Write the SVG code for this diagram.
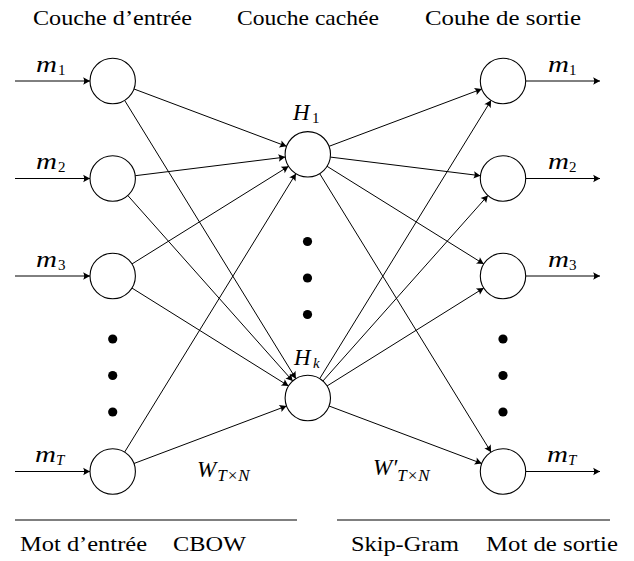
<svg xmlns="http://www.w3.org/2000/svg" width="634" height="561" viewBox="0 0 634 561" font-family="'Liberation Serif', 'Times New Roman', Times, 'DejaVu Serif', serif">
<defs>
<style>
.n{fill:#fff;stroke:#000;stroke-width:1.1}
.e{stroke:#000;stroke-width:1;fill:none;marker-end:url(#ah)}
text{fill:#000}
.t{font-size:22px}
.mi{font-style:italic;font-size:23px}
.sb{font-size:15px}
.sbi{font-style:italic;font-size:15px}
.ws{font-size:17px}
.d{fill:#000}
.rule{stroke:#000;stroke-width:1.1}
</style>
<marker id="ah" markerUnits="userSpaceOnUse" markerWidth="10" markerHeight="10" refX="0" refY="0" viewBox="-6 -4 7 8" orient="auto">
<path d="M0,0 L-5.5,-3 Q-3.8,0 -5.5,3 Z" fill="#000"/>
</marker>
</defs>
<rect width="634" height="561" fill="#fff"/>

<g id="titles">
<text class="t" x="33" y="25" textLength="159" lengthAdjust="spacingAndGlyphs">Couche d’entrée</text>
<text class="t" x="237" y="25" textLength="142" lengthAdjust="spacingAndGlyphs">Couche cachée</text>
<text class="t" x="425" y="25" textLength="156" lengthAdjust="spacingAndGlyphs">Couhe de sortie</text>
</g>

<g id="connectors">
<line class="e" x1="15" y1="81" x2="90" y2="81"/>
<line class="e" x1="15" y1="178.5" x2="90" y2="178.5"/>
<line class="e" x1="15" y1="276" x2="90" y2="276"/>
<line class="e" x1="15" y1="471.5" x2="90" y2="471.5"/>
<line class="e" x1="133.95" y1="88.98" x2="286.55" y2="146.32"/>
<line class="e" x1="135.23" y1="175.71" x2="285.27" y2="157.09"/>
<line class="e" x1="131.96" y1="263.98" x2="288.54" y2="166.32"/>
<line class="e" x1="124.59" y1="452.16" x2="295.91" y2="173.64"/>
<line class="e" x1="124.6" y1="100.33" x2="295.9" y2="378.67"/>
<line class="e" x1="127.78" y1="195.47" x2="292.72" y2="381.03"/>
<line class="e" x1="131.95" y1="288.04" x2="288.55" y2="385.96"/>
<line class="e" x1="133.94" y1="463.5" x2="286.56" y2="406.0"/>
<line class="e" x1="329.05" y1="146.32" x2="481.75" y2="88.98"/>
<line class="e" x1="330.33" y1="157.09" x2="480.47" y2="175.71"/>
<line class="e" x1="327.07" y1="166.31" x2="483.73" y2="263.99"/>
<line class="e" x1="319.7" y1="173.63" x2="491.1" y2="452.17"/>
<line class="e" x1="319.7" y1="378.67" x2="491.1" y2="100.33"/>
<line class="e" x1="322.89" y1="381.04" x2="487.91" y2="195.46"/>
<line class="e" x1="327.05" y1="385.97" x2="483.75" y2="288.03"/>
<line class="e" x1="329.04" y1="406.0" x2="481.76" y2="463.5"/>
<line class="e" x1="525.7" y1="81" x2="600" y2="81"/>
<line class="e" x1="525.7" y1="178.5" x2="600" y2="178.5"/>
<line class="e" x1="525.7" y1="276" x2="600" y2="276"/>
<line class="e" x1="525.7" y1="471.5" x2="600" y2="471.5"/>
</g>

<g id="in1"><circle class="n" cx="112.7" cy="81" r="22.7"/></g>
<g id="in2"><circle class="n" cx="112.7" cy="178.5" r="22.7"/></g>
<g id="in3"><circle class="n" cx="112.7" cy="276" r="22.7"/></g>
<g id="inT"><circle class="n" cx="112.7" cy="471.5" r="22.7"/></g>
<g id="h1"><circle class="n" cx="307.8" cy="154.3" r="22.7"/></g>
<g id="hk"><circle class="n" cx="307.8" cy="398" r="22.7"/></g>
<g id="out1"><circle class="n" cx="503" cy="81" r="22.7"/></g>
<g id="out2"><circle class="n" cx="503" cy="178.5" r="22.7"/></g>
<g id="out3"><circle class="n" cx="503" cy="276" r="22.7"/></g>
<g id="outT"><circle class="n" cx="503" cy="471.5" r="22.7"/></g>

<g id="dots">
<circle class="d" cx="112.7" cy="339" r="4.6"/>
<circle class="d" cx="112.7" cy="375.5" r="4.6"/>
<circle class="d" cx="112.7" cy="412" r="4.6"/>
<circle class="d" cx="307.5" cy="241.5" r="4.6"/>
<circle class="d" cx="307.5" cy="278" r="4.6"/>
<circle class="d" cx="307.5" cy="314.5" r="4.6"/>
<circle class="d" cx="503" cy="339" r="4.6"/>
<circle class="d" cx="503" cy="375.5" r="4.6"/>
<circle class="d" cx="503" cy="412" r="4.6"/>
</g>

<g id="labels">
<text class="mi" x="36" y="71.5" textLength="21" lengthAdjust="spacingAndGlyphs">m</text>
<text class="sb" x="58" y="74.5">1</text>
<text class="mi" x="36" y="169" textLength="21" lengthAdjust="spacingAndGlyphs">m</text>
<text class="sb" x="58" y="172">2</text>
<text class="mi" x="36" y="266.5" textLength="21" lengthAdjust="spacingAndGlyphs">m</text>
<text class="sb" x="58" y="269.5">3</text>
<text class="mi" x="35" y="462" textLength="21" lengthAdjust="spacingAndGlyphs">m</text>
<text class="sbi" x="56" y="465">T</text>

<text class="mi" x="548" y="71.5" textLength="21" lengthAdjust="spacingAndGlyphs">m</text>
<text class="sb" x="569" y="74.5">1</text>
<text class="mi" x="548" y="169" textLength="21" lengthAdjust="spacingAndGlyphs">m</text>
<text class="sb" x="569" y="172">2</text>
<text class="mi" x="548" y="266.5" textLength="21" lengthAdjust="spacingAndGlyphs">m</text>
<text class="sb" x="569" y="269.5">3</text>
<text class="mi" x="547" y="462" textLength="21" lengthAdjust="spacingAndGlyphs">m</text>
<text class="sbi" x="568" y="465">T</text>

<text class="mi" x="293" y="120">H</text>
<text class="sb" x="312" y="123">1</text>
<text class="mi" x="294" y="365">H</text>
<text class="sbi" x="313" y="368">k</text>

<text class="mi" x="197" y="477" font-size="24">W<tspan class="ws" dx="1" dy="4"><tspan font-style="italic">T</tspan>×<tspan font-style="italic">N</tspan></tspan></text>
<text class="mi" x="373" y="475" font-size="24">W′<tspan class="ws" dx="0" dy="6"><tspan font-style="italic">T</tspan>×<tspan font-style="italic">N</tspan></tspan></text>
</g>

<g id="footer">
<line class="rule" x1="15" y1="520" x2="297" y2="520"/>
<line class="rule" x1="337" y1="520" x2="610" y2="520"/>
<text class="t" x="20" y="551" textLength="127" lengthAdjust="spacingAndGlyphs">Mot d’entrée</text>
<text class="t" x="173" y="551" textLength="73" lengthAdjust="spacingAndGlyphs">CBOW</text>
<text class="t" x="351" y="551" textLength="108" lengthAdjust="spacingAndGlyphs">Skip-Gram</text>
<text class="t" x="486" y="551" textLength="132" lengthAdjust="spacingAndGlyphs">Mot de sortie</text>
</g>
</svg>
